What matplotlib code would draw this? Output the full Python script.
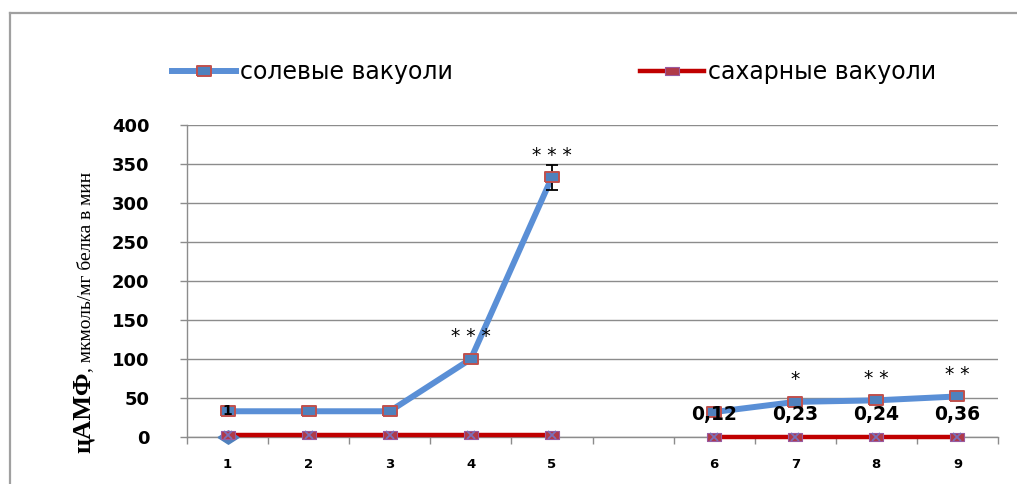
import numpy as np
import matplotlib
matplotlib.use("Agg")
import matplotlib.pyplot as plt
from matplotlib.lines import Line2D

# ---- data ----
categories = ["1", "2", "3", "4", "5", "", "6", "7", "8", "9"]
salt_values = [33, 33, 33, 100, 333, np.nan, 32, 45, 47, 52]
sugar_values = [3, 3, 3, 3, 3, np.nan, 0, 0, 0, 0]
salt_err = [0, 0, 0, 0, 16, 0, 0, 0, 0, 0]
extra_point_x = [0]
extra_point_y = [0]
stars = ["", "", "", "* * *", "* * *", "", "", "*", "* *", "* *"]
value_labels = ["", "", "", "", "", "", "0,12", "0,23", "0,24", "0,36"]
yticks = [0, 50, 100, 150, 200, 250, 300, 350, 400]

blue = "#5A8FD6"
blue_fill = "#4F81BD"
red = "#C00000"
red_edge = "#C0504D"
xmark = "#7B6FB8"
grid_c = "#8C8C8C"

fig = plt.figure(figsize=(10.17, 4.84), dpi=100)

# outer chart frame (top and left edges visible)
fig.add_artist(Line2D([10 / 1017, 10 / 1017], [0, 1 - 13 / 484],
                      transform=fig.transFigure, color="#A0A0A0", lw=1.6))
fig.add_artist(Line2D([10 / 1017, 1], [1 - 13 / 484, 1 - 13 / 484],
                      transform=fig.transFigure, color="#A0A0A0", lw=1.6))

ax = fig.add_axes([187 / 1017, 1 - 437 / 484, (998 - 187) / 1017, (437 - 125) / 484])

x = np.arange(len(categories))
rect_marker = [(-1.6, -1), (1.6, -1), (1.6, 1), (-1.6, 1), (-1.6, -1)]
diamond_marker = [(-1.55, 0), (0, 1), (1.55, 0), (0, -1), (-1.55, 0)]

# sugar vacuoles
ax.plot(x, sugar_values, color=red, lw=3.2, zorder=3, clip_on=False)
ax.plot(extra_point_x, extra_point_y, linestyle="none", marker=diamond_marker,
        ms=15, mfc=blue_fill, mec=blue_fill, zorder=3.5, clip_on=False)
ax.plot(x, sugar_values, linestyle="none", marker=rect_marker, ms=10,
        mfc="#B03A48", mec="#9A5AA0", mew=0.8, zorder=4, clip_on=False)
ax.plot(x, sugar_values, linestyle="none", marker="x", ms=6,
        mec=xmark, mew=1.3, zorder=4.5, clip_on=False)

# salt vacuoles
ax.plot(x, salt_values, color=blue, lw=4.3, zorder=5, solid_capstyle="round")
ax.errorbar(x[4], salt_values[4], yerr=salt_err[4], fmt="none", ecolor="black",
            elinewidth=1.3, capsize=4.5, capthick=1.3, zorder=5.5)
ax.plot(x, salt_values, linestyle="none", marker=rect_marker, ms=10.5,
        mfc=blue_fill, mec=red_edge, mew=1.4, zorder=6)

# data label on the first point
ax.text(x[0], salt_values[0], "1", ha="center", va="center", fontsize=10,
        fontweight="bold", color="black", zorder=7)

# significance marks above points
for xi, yi, s in zip(x, salt_values, stars):
    if s:
        ax.annotate(s, (xi, yi), xytext=(0, 16), textcoords="offset points",
                    ha="center", va="center", fontsize=13.5, color="black", zorder=8)

# value labels above the sugar points of the second group
for xi, yi, s in zip(x, sugar_values, value_labels):
    if s:
        ax.annotate(s, (xi, yi), xytext=(0, 16.5), textcoords="offset points",
                    ha="center", va="center", fontsize=13.5, fontweight="bold",
                    color="black", zorder=8)

ax.set_xlim(-0.5, len(categories) - 0.5)
ax.set_ylim(0, 400)

ax.set_yticks(yticks)
ax.set_yticklabels([str(v) for v in yticks], fontsize=13, fontweight="bold")
ax.tick_params(axis="y", length=5, width=1, color=grid_c, pad=22)

ax.set_xticks(np.arange(-0.5, len(categories)), minor=False)
ax.set_xticklabels([])
ax.set_xticks(x, minor=True)
ax.set_xticklabels(categories, minor=True, fontsize=9.5, fontweight="bold")
ax.tick_params(axis="x", which="major", length=5, width=1, color=grid_c, direction="out")
ax.tick_params(axis="x", which="minor", length=0, pad=15)

ax.grid(axis="y", color=grid_c, lw=1)
ax.set_axisbelow(True)
for side in ("top", "right"):
    ax.spines[side].set_visible(False)
for side in ("left", "bottom"):
    ax.spines[side].set_color(grid_c)
    ax.spines[side].set_linewidth(1)

# legend
salt_handle = Line2D([], [], color=blue, lw=4.3, marker=rect_marker, ms=10.5,
                     mfc=blue_fill, mec=red_edge, mew=1.4)
sugar_handle = Line2D([], [], color=red, lw=3.2, marker=rect_marker, ms=10,
                      mfc="#B03A48", mec="#9A5AA0", mew=0.8)
leg_kw = dict(loc="center left", frameon=False, fontsize=17, handlelength=2.7,
              handletextpad=0.2, borderpad=0, borderaxespad=0)
fig.legend([salt_handle], ["солевые вакуоли"],
           bbox_to_anchor=(172 / 1017, 1 - 72 / 484), **leg_kw)
fig.legend([sugar_handle], ["сахарные вакуоли"],
           bbox_to_anchor=(640 / 1017, 1 - 72 / 484), **leg_kw)

# y axis title: large "цАМФ" followed by the units
serif = "Liberation Serif"
t1 = fig.text(90 / 1017, 1 - 453 / 484, "цАМФ", rotation=90, rotation_mode="anchor",
              ha="left", va="baseline", fontsize=19, fontweight="bold", family=serif)
fig.canvas.draw()
bb = t1.get_window_extent()
y_end = bb.y1 / fig.bbox.height
fig.text(90 / 1017, y_end, ", мкмоль/мг белка в мин", rotation=90,
         rotation_mode="anchor", ha="left", va="baseline", fontsize=14, family=serif)

fig.savefig("out.png", dpi=100, facecolor="white")
